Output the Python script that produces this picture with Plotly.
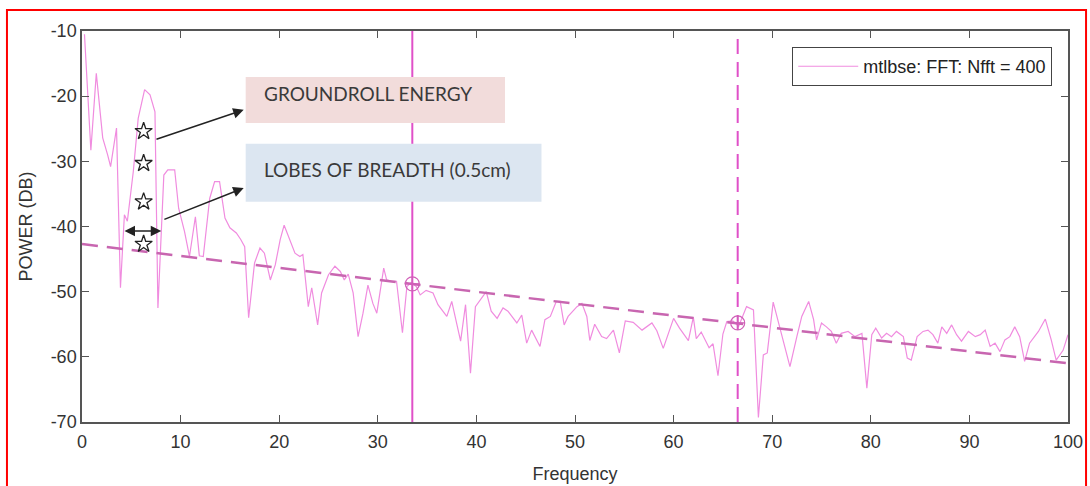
import plotly.graph_objects as go

# ---- data ----
freq = [0.25, 0.9, 1.45, 2.1, 2.6, 2.9, 3.5, 3.9, 4.3, 4.6, 5.2, 5.7, 6.35, 6.9, 7.4, 7.7,
        8.3, 8.7, 9.4, 9.8, 10.4, 10.9, 11.5, 11.9, 12.3, 12.95, 13.45, 13.95, 14.5, 15.0,
        15.65, 16.1, 16.5, 16.9, 17.5, 18.05, 18.5, 19.1, 19.6, 20.1, 20.5, 21.1, 21.6, 22.1,
        22.4, 22.95, 23.3, 23.9, 24.3, 25.0, 25.65, 26.2, 26.6, 27.0, 27.5, 28.0, 28.5, 29.0,
        29.5, 29.9, 30.3, 30.6, 30.9, 31.4, 31.9, 32.5, 32.95, 33.4, 33.9, 34.3, 34.9, 35.6,
        36.1, 37.0, 37.5, 38.0, 38.4, 38.9, 39.4, 39.9, 40.5, 41.0, 41.5, 42.1, 42.7, 43.2,
        44.1, 44.6, 45.1, 45.6, 46.45, 46.95, 47.5, 48.1, 48.5, 48.9, 49.3, 50.2, 50.7, 51.2,
        51.5, 52.0, 52.7, 53.2, 53.9, 54.5, 55.1, 55.9, 56.8, 57.8, 58.3, 58.95, 60.0, 60.6,
        61.5, 62.0, 62.3, 62.8, 63.6, 64.0, 64.5, 65.0, 65.4, 66.0, 66.6, 67.4, 68.1, 68.6,
        69.1, 69.5, 70.1, 71.0, 71.8, 72.5, 73.0, 73.7, 74.2, 74.5, 75.0, 75.5, 76.0, 76.5,
        77.0, 77.7, 78.4, 79.1, 79.6, 80.1, 80.5, 81.1, 81.6, 82.1, 82.6, 83.3, 83.7, 84.1,
        84.7, 85.3, 85.8, 86.3, 86.8, 87.2, 87.7, 88.2, 88.7, 89.2, 89.9, 90.6, 91.1, 91.6,
        92.1, 92.6, 93.1, 93.6, 94.1, 94.6, 95.1, 95.6, 96.1, 97.0, 97.7, 98.3, 98.8, 99.5,
        100.0]
power_db = [-10.5, -28.3, -16.5, -26.4, -29.0, -30.8, -24.9, -49.4, -38.2, -39.2, -31.6, -23.4,
            -19.0, -19.8, -22.4, -52.5, -32.1, -31.3, -31.3, -37.2, -40.8, -44.6, -38.5, -44.5,
            -44.6, -35.7, -33.1, -33.1, -38.7, -40.2, -41.0, -42.0, -43.1, -54.0, -45.6, -43.3,
            -44.1, -48.2, -45.9, -42.0, -39.8, -42.0, -44.1, -44.6, -44.3, -52.3, -49.4, -55.1,
            -50.2, -47.4, -46.1, -46.9, -48.2, -47.3, -50.2, -56.9, -53.3, -49.0, -51.8, -53.3,
            -49.4, -46.4, -48.2, -48.4, -48.4, -56.3, -49.2, -48.6, -49.2, -50.5, -49.8, -50.2,
            -52.0, -53.8, -51.5, -54.8, -57.6, -52.0, -62.5, -52.3, -51.0, -50.0, -53.0, -54.1,
            -52.5, -53.0, -54.8, -53.6, -57.9, -55.9, -58.4, -54.3, -53.8, -51.5, -51.5, -55.1,
            -53.8, -52.3, -51.8, -53.8, -57.5, -55.0, -56.9, -57.2, -55.9, -59.4, -54.5, -54.7,
            -55.9, -54.8, -56.0, -58.7, -54.1, -55.6, -57.5, -53.9, -57.2, -56.2, -58.6, -58.0,
            -62.9, -56.5, -54.6, -54.5, -55.3, -52.3, -52.8, -69.3, -59.7, -59.4, -51.6, -56.9,
            -61.5, -56.9, -53.8, -51.5, -54.3, -57.4, -54.8, -55.4, -56.1, -57.9, -56.4, -56.1,
            -56.9, -56.4, -64.8, -56.6, -55.6, -57.1, -56.4, -56.9, -56.1, -56.9, -60.2, -60.5,
            -56.9, -56.1, -55.9, -56.6, -57.9, -55.4, -56.4, -55.1, -56.6, -57.6, -56.1, -56.9,
            -56.6, -55.9, -58.4, -57.9, -59.2, -57.4, -56.9, -55.4, -56.9, -60.7, -57.9, -56.1,
            -54.2, -57.4, -60.5, -59.0, -56.6]

trend_x = [0, 100]
trend_y = [-42.7, -61.0]
solid_line_x = [33.5, 33.5]
dashed_line_x = [66.5, 66.5]
vline_y = [-70, -10]
marker_x = [33.5, 66.5]
marker_y = [-48.8, -54.8]
star_x = [6.25, 6.25, 6.25, 6.25]
star_y = [-25.4, -30.3, -36.2, -42.7]
x_ticks = [0, 10, 20, 30, 40, 50, 60, 70, 80, 90, 100]
x_tick_text = ["0", "10", "20", "30", "40", "50", "60", "70", "80", "90", "100"]
y_ticks = [-70, -60, -50, -40, -30, -20, -10]
y_tick_text = ["-70", "-60", "-50", "-40", "-30", "-20", "-10"]
legend_name = "mtlbse: FFT: Nfft = 400"

MAG = "#e050c8"
fig = go.Figure()
fig.add_trace(go.Scatter(x=freq, y=power_db, mode="lines", name=legend_name,
                         line=dict(color="#f08cdf", width=1.2)))
fig.add_trace(go.Scatter(x=trend_x, y=trend_y, mode="lines", showlegend=False,
                         line=dict(color="#c866b0", width=2.5, dash="16px,9px")))
fig.add_trace(go.Scatter(x=solid_line_x, y=vline_y, mode="lines", showlegend=False,
                         line=dict(color=MAG, width=2)))
fig.add_trace(go.Scatter(x=dashed_line_x, y=vline_y, mode="lines", showlegend=False,
                         line=dict(color=MAG, width=2, dash="15px,8px")))
fig.add_trace(go.Scatter(x=marker_x, y=marker_y, mode="markers", showlegend=False,
                         marker=dict(symbol="circle-cross-open", size=14, color="#d060b8",
                                     line=dict(width=1.2))))
fig.add_trace(go.Scatter(x=star_x, y=star_y, mode="markers", showlegend=False,
                         marker=dict(symbol="star-open", size=13, color="#222",
                                     line=dict(width=1.3))))

# annotation boxes
fig.add_shape(type="rect", xref="x", yref="y", x0=16.6, x1=42.9, y0=-24.1, y1=-17.05,
              fillcolor="#f2dcdb", line=dict(width=0), layer="above")
fig.add_shape(type="rect", xref="x", yref="y", x0=16.6, x1=46.6, y0=-36.2, y1=-27.3,
              fillcolor="#dce6f1", line=dict(width=0), layer="above")
# red outer frame
fig.add_shape(type="rect", xref="paper", yref="paper", x0=-0.0761, x1=1.0183, y0=-0.3, y1=1.0537,
              line=dict(color="#ff0000", width=2), fillcolor="rgba(0,0,0,0)", layer="above")

txtfont = dict(family="Lato, Open Sans, sans-serif", size=19, color="#3a3a3a")
fig.add_annotation(x=18.25, y=-19.66, xref="x", yref="y", text="GROUNDROLL ENERGY",
                   showarrow=False, xanchor="left", yanchor="middle", font=txtfont)
fig.add_annotation(x=18.25, y=-31.3, xref="x", yref="y", text="LOBES OF BREADTH (0.5cm)",
                   showarrow=False, xanchor="left", yanchor="middle", font=txtfont)

arrow = dict(showarrow=True, arrowhead=2, arrowsize=1.4, arrowwidth=1.5, arrowcolor="#222",
             xref="x", yref="y", axref="x", ayref="y", text="")
fig.add_annotation(x=16.4, y=-22.1, ax=7.4, ay=-26.7, **arrow)
fig.add_annotation(x=16.4, y=-34.1, ax=8.2, ay=-39.0, **arrow)
fig.add_annotation(x=8.04, y=-40.7, ax=4.16, ay=-40.7, arrowside="end+start", **arrow)

axfont = dict(family="Liberation Sans, Arial, sans-serif", size=18, color="#333")
titlefont = dict(family="Liberation Sans, Arial, sans-serif", size=18, color="#333")
fig.update_xaxes(range=[0, 100], tickvals=x_ticks, ticktext=x_tick_text, ticks="inside",
                 ticklen=7, tickwidth=1.2, tickcolor="#555", showline=True, linecolor="#555",
                 linewidth=1.5, mirror="ticks", showgrid=False, zeroline=False, tickfont=axfont,
                 ticklabelstandoff=3, automargin=False,
                 title=dict(text="Frequency", font=titlefont, standoff=16))
fig.update_yaxes(range=[-70, -10], tickvals=y_ticks, ticktext=y_tick_text, ticks="inside",
                 ticklen=7, tickwidth=1.2, tickcolor="#555", showline=True, linecolor="#555",
                 linewidth=1.5, mirror="ticks", showgrid=False, zeroline=False, tickfont=axfont,
                 automargin=False,
                 title=dict(text="POWER (DB)", font=titlefont, standoff=13))
fig.update_layout(
    width=1090, height=486,
    margin=dict(l=82, r=22, t=31, b=64),
    plot_bgcolor="white", paper_bgcolor="white",
    showlegend=True,
    legend=dict(x=0.984, y=0.959, xanchor="right", yanchor="top", bordercolor="#444",
                borderwidth=1, bgcolor="white", itemwidth=60,
                font=dict(family="Liberation Sans, Arial", size=18, color="#222")),
)
fig.write_html("out.html")
